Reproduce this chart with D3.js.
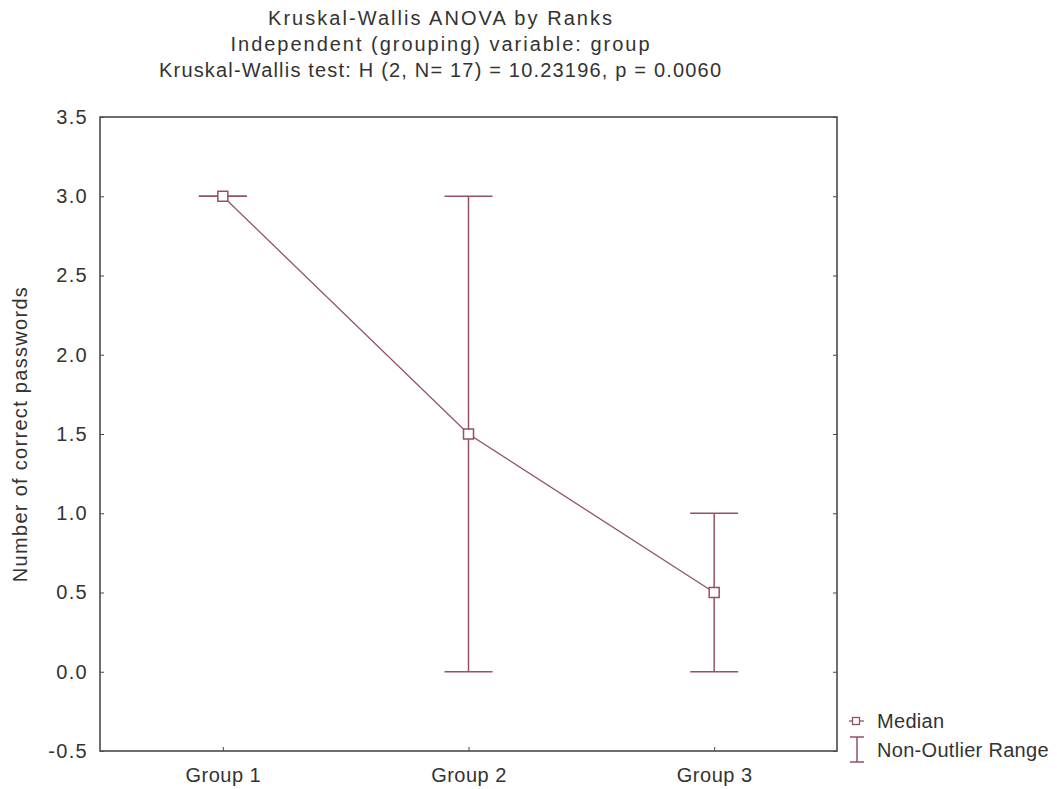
<!DOCTYPE html>
<html><head><meta charset="utf-8">
<script src="https://cdn.jsdelivr.net/npm/d3@7"></script>
<style>body{margin:0;background:#fff;} text{font-family:"Liberation Sans",Arial,sans-serif;fill:#333;}</style>
</head><body>
<svg id="c" width="1057" height="789"></svg>
<script>
const titleLines = ["Kruskal-Wallis ANOVA by Ranks", "Independent (grouping) variable: group", "Kruskal-Wallis test: H (2, N= 17) = 10.23196, p = 0.0060"];
const categories = ["Group 1", "Group 2", "Group 3"];
const medians = [3.0, 1.5, 0.5];
const lows = [3.0, 0.0, 0.0];
const highs = [3.0, 3.0, 1.0];
const yTicks = [-0.5, 0.0, 0.5, 1.0, 1.5, 2.0, 2.5, 3.0, 3.5];
const yLabel = "Number of correct passwords";
const legendItems = ["Median", "Non-Outlier Range"];

const svg = d3.select("#c");
const L = 100, R = 837, T = 117, B = 751;
const col = "#94525f";
const axisCol = "#4a4a4a";
const FS = "20px";

const x = d3.scalePoint().domain(categories).range([L, R]).padding(0.5);
const y = d3.scaleLinear().domain([-0.5, 3.5]).range([B, T]);

// titles
const titleWidths = [344, 419, 562];
svg.selectAll("text.title").data(titleLines).join("text")
  .attr("class","title").attr("x", 440).attr("y", (d,i)=>25 + i*26)
  .attr("text-anchor","middle").style("font-size",FS)
  .attr("textLength",(d,i)=>titleWidths[i]).attr("lengthAdjust","spacing")
  .text(d=>d);

// frame
svg.append("rect").attr("x",L).attr("y",T).attr("width",R-L).attr("height",B-T)
  .attr("fill","none").attr("stroke",axisCol).attr("stroke-width",1.6);

// y axis
const ya = svg.append("g").attr("transform",`translate(${L},0)`)
  .call(d3.axisLeft(y).tickValues(yTicks).tickSize(-4).tickPadding(12).tickFormat(d3.format(".1f")));
ya.select(".domain").remove();
ya.selectAll("line").attr("stroke",axisCol);
ya.selectAll("text").style("font-size",FS).style("letter-spacing","1.3px").attr("fill","#333");
ya.selectAll("text").text(d=> d<0 ? "-" + Math.abs(d).toFixed(1) : d.toFixed(1));

// right ticks
const yr = svg.append("g").attr("transform",`translate(${R},0)`)
  .call(d3.axisRight(y).tickValues(yTicks).tickSize(-4).tickFormat(""));
yr.select(".domain").remove();
yr.selectAll("line").attr("stroke",axisCol);

// x axis
const xa = svg.append("g").attr("transform",`translate(0,${B})`)
  .call(d3.axisBottom(x).tickSize(-4).tickPadding(17));
xa.select(".domain").remove();
xa.selectAll("line").attr("stroke",axisCol);
xa.selectAll("text").style("font-size",FS).style("letter-spacing","0.5px").attr("fill","#333");

// y label
svg.append("text").attr("transform",`translate(27,${(T+B)/2}) rotate(-90)`)
  .attr("text-anchor","middle").style("font-size",FS).style("letter-spacing","1.3px").text(yLabel);

// whiskers
const capW = 24;
const g = svg.append("g");
categories.forEach((c,i)=>{
  const cx = x(c);
  g.append("line").attr("x1",cx).attr("x2",cx).attr("y1",y(lows[i])).attr("y2",y(highs[i])).attr("stroke",col).attr("stroke-width",1.5);
  g.append("line").attr("x1",cx-capW).attr("x2",cx+capW).attr("y1",y(lows[i])).attr("y2",y(lows[i])).attr("stroke",col).attr("stroke-width",1.5);
  g.append("line").attr("x1",cx-capW).attr("x2",cx+capW).attr("y1",y(highs[i])).attr("y2",y(highs[i])).attr("stroke",col).attr("stroke-width",1.5);
});

// median line
const line = d3.line().x((d,i)=>x(categories[i])).y(d=>y(d));
g.append("path").datum(medians).attr("d",line).attr("fill","none").attr("stroke",col).attr("stroke-width",1.3);

// markers
g.selectAll("rect.m").data(medians).join("rect").attr("class","m")
  .attr("x",(d,i)=>x(categories[i])-5).attr("y",d=>y(d)-5).attr("width",10).attr("height",10)
  .attr("fill","#fff").attr("stroke",col).attr("stroke-width",1.5);

// legend
const lg = svg.append("g");
lg.append("line").attr("x1",849).attr("x2",864).attr("y1",721).attr("y2",721).attr("stroke",col).attr("stroke-width",1.3);
lg.append("rect").attr("x",852.5).attr("y",717.5).attr("width",7).attr("height",7).attr("fill","#fff").attr("stroke",col).attr("stroke-width",1.3);
lg.append("line").attr("x1",857).attr("x2",857).attr("y1",737).attr("y2",762).attr("stroke",col).attr("stroke-width",1.5);
lg.append("line").attr("x1",850).attr("x2",864).attr("y1",737).attr("y2",737).attr("stroke",col).attr("stroke-width",1.5);
lg.append("line").attr("x1",850).attr("x2",864).attr("y1",762).attr("y2",762).attr("stroke",col).attr("stroke-width",1.5);
lg.selectAll("text").data(legendItems).join("text")
  .attr("x",877).attr("y",(d,i)=>728 + i*29).style("font-size",FS).style("letter-spacing","0.3px").text(d=>d);
</script>
</body></html>
